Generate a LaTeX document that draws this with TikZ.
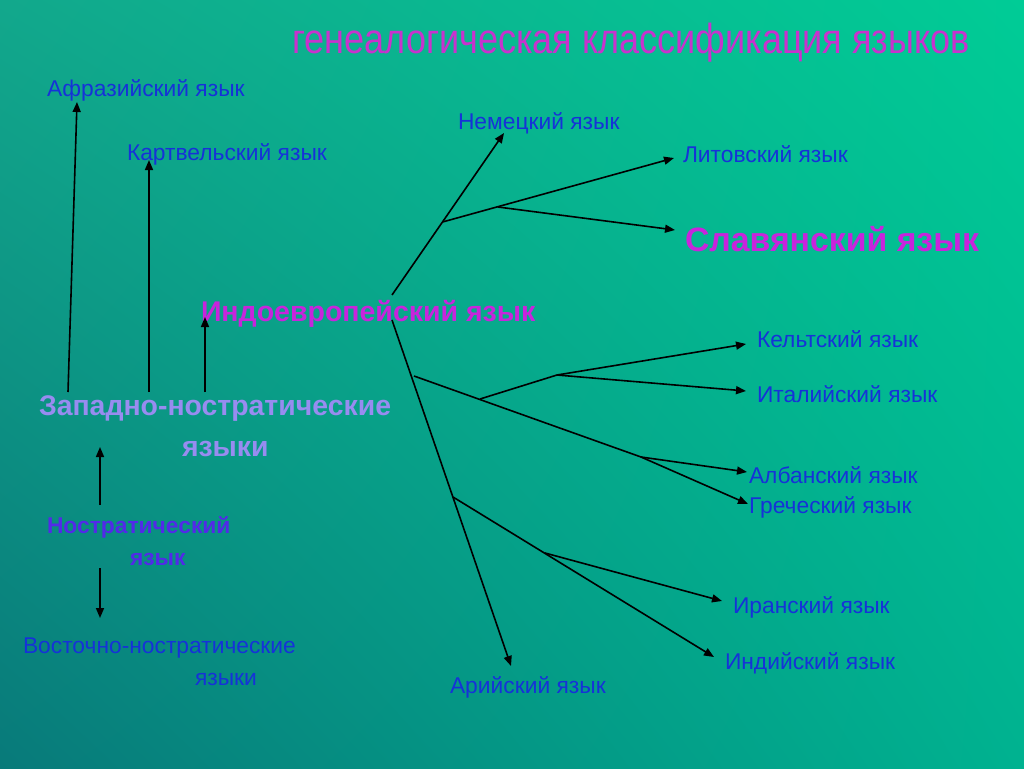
\documentclass[tikz,border=0pt]{standalone}
\usepackage{fontspec}
\usepackage{graphicx}
\setmainfont{Liberation Sans}
\usetikzlibrary{arrows.meta,shadings}
\definecolor{bgUL}{RGB}{18,168,140}
\definecolor{bgUR}{RGB}{0,204,150}
\definecolor{bgLL}{RGB}{8,122,122}
\definecolor{bgLR}{RGB}{0,178,144}
\definecolor{lblue}{RGB}{22,50,216}
\definecolor{lmag}{RGB}{200,36,220}
\definecolor{tmag}{RGB}{200,50,205}
\definecolor{lviolet}{RGB}{152,140,240}
\definecolor{dviolet}{RGB}{82,42,232}
\tikzset{
  lbl/.style={anchor=base west, inner sep=0pt, outer sep=0pt, text=lblue, font=\fontsize{22.8}{26}\selectfont},
  blbl/.style={anchor=base west, inner sep=0pt, outer sep=0pt, font=\bfseries},
  arr/.style={draw=black, line width=1.6pt, -{Triangle[length=10pt,width=8pt]}},
}
\begin{document}
\begin{tikzpicture}[x=1pt,y=-1pt]
\useasboundingbox (0,0) rectangle (1024,768);
\shade[upper left=bgUL, upper right=bgUR, lower left=bgLL, lower right=bgLR] (0,0) rectangle (1024,768);

% title
\node[anchor=base, inner sep=0pt, text=tmag] (title) at (631,54)
  {\resizebox{677pt}{\height}{\fontsize{42}{44}\selectfont генеалогическая классификация языков}};

% left side labels
\node[lbl] (afr) at (47,96) {Афразийский язык};
\node[lbl] (kart) at (127,160) {Картвельский язык};
\node[blbl, text=lmag, font=\bfseries\fontsize{28.5}{32}\selectfont] (ie) at (201,321) {Индоевропейский язык};
\node[blbl, text=lviolet, font=\bfseries\fontsize{28.4}{32}\selectfont] (zap) at (39,415) {Западно-ностратические};
\node[blbl, text=lviolet, font=\bfseries\fontsize{28.4}{32}\selectfont] (zap2) at (182,456) {языки};
\node[blbl, text=dviolet, font=\bfseries\fontsize{22.8}{26}\selectfont] (nos) at (47,533) {Ностратический};
\node[blbl, text=dviolet, font=\bfseries\fontsize{22.8}{26}\selectfont] (nos2) at (130,565) {язык};
\node[lbl] (vost) at (23,653) {Восточно-ностратические};
\node[lbl] (vost2) at (195,685) {языки};

% right side labels
\node[lbl] (nem) at (458,129) {Немецкий язык};
\node[lbl] (lit) at (683,162) {Литовский язык};
\node[blbl, text=lmag, font=\bfseries\fontsize{33.8}{36}\selectfont] (slav) at (685,251) {Славянский язык};
\node[lbl] (kelt) at (757,347) {Кельтский язык};
\node[lbl] (ital) at (757,402) {Италийский язык};
\node[lbl] (alb) at (749,483) {Албанский язык};
\node[lbl] (gr) at (749,513) {Греческий язык};
\node[lbl] (iran) at (733,613) {Иранский язык};
\node[lbl] (ind) at (725,669) {Индийский язык};
\node[lbl] (ar) at (450,693) {Арийский язык};

% coordinates
\coordinate (zA) at (68,392);  \coordinate (afrT) at (77,102);
\coordinate (zK) at (149,392); \coordinate (kartT) at (149,160);
\coordinate (zI) at (205,392); \coordinate (ieT) at (205,317);
\coordinate (nosU) at (100,505); \coordinate (zapT) at (100,447);
\coordinate (nosD) at (100,568); \coordinate (vostT) at (100,618);

\coordinate (ieTop) at (392,295); \coordinate (nb1) at (442.5,222);
\coordinate (nemT) at (504,133);
\coordinate (nb2) at (498,207); \coordinate (litT) at (674,158);
\coordinate (slavT) at (675,230);
\coordinate (ieBot) at (392,320); \coordinate (arT) at (511,666);
\coordinate (sb0) at (414,376); \coordinate (sb1) at (480,399);
\coordinate (sb2) at (557,375); \coordinate (keltT) at (746,344);
\coordinate (italT) at (746,391);
\coordinate (sb3) at (641,457); \coordinate (albT) at (747,472);
\coordinate (grT) at (748,504);
\coordinate (ab0) at (453,497); \coordinate (ab1) at (545,553);
\coordinate (iranT) at (722,601); \coordinate (indT) at (714,657);

% left arrows
\draw[arr] (zA) -- (afrT);
\draw[arr] (zK) -- (kartT);
\draw[arr] (zI) -- (ieT);
\draw[arr] (nosU) -- (zapT);
\draw[arr] (nosD) -- (vostT);

% tree
\draw[arr] (ieTop) -- (nemT);
\draw[arr] (nb1) -- (litT);
\draw[arr] (nb2) -- (slavT);
\draw[arr] (ieBot) -- (arT);
\draw[arr] (sb0) -- (sb3) -- (grT);
\draw[arr] (sb1) -- (sb2) -- (keltT);
\draw[arr] (sb2) -- (italT);
\draw[arr] (sb3) -- (albT);
\draw[arr] (ab0) -- (indT);
\draw[arr] (ab1) -- (iranT);
\end{tikzpicture}
\end{document}
